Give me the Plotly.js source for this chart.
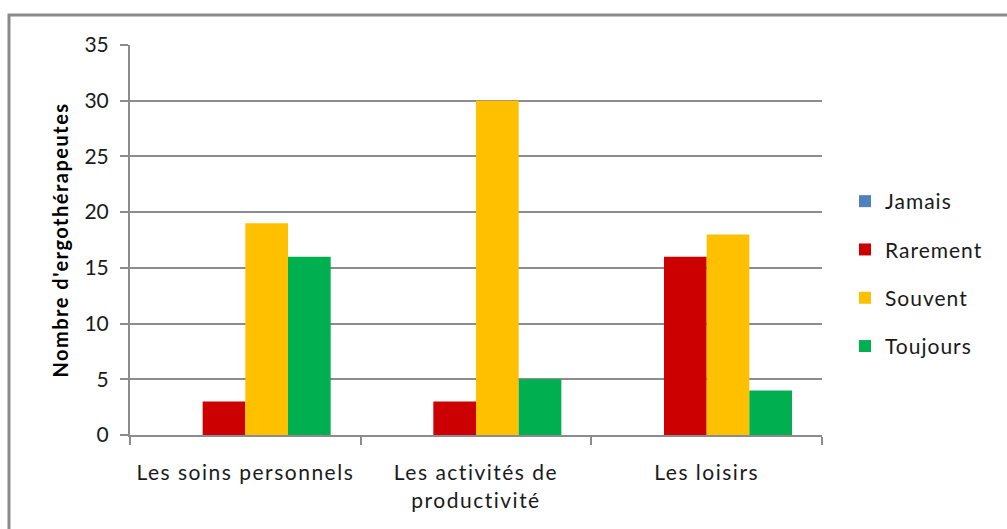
<!DOCTYPE html>
<html>
<head>
<meta charset="utf-8">
<script src="https://cdn.plot.ly/plotly-3.0.1.min.js"></script>
<style>
html,body{margin:0;padding:0;background:#fff;}
#chart{width:1007px;height:529px;}
.xtick text { letter-spacing: 1.5px; }
.legendtext { letter-spacing: 1px; }
.ytitle { letter-spacing: 1.5px; }
</style>
</head>
<body>
<div id="chart"></div>
<script>
const categories = ["Les soins personnels", "Les activités de<br>productivité", "Les loisirs"];
const seriesNames = ["Jamais", "Rarement", "Souvent", "Toujours"];
const jamais = [0, 0, 0];
const rarement = [3, 3, 16];
const souvent = [19, 30, 18];
const toujours = [16, 5, 4];
const colors = ["#4F81BD", "#CC0000", "#FFC000", "#00B050"];
const yTitle = "Nombre d'ergothérapeutes";

const values = [jamais, rarement, souvent, toujours];
const traces = values.map((v, i) => ({
  type: "bar",
  name: seriesNames[i],
  x: categories,
  y: v,
  marker: {color: colors[i]},
  legendgroup: "g" + i
}));

const W = 1007, H = 529, L = 130, R = 185, T = 45, B = 94;
const pw = W - L - R, ph = H - T - B;
const px = v => (v - L) / pw;
const py = v => (H - B - v) / ph;

const layout = {
  width: W, height: H,
  margin: {l: L, r: R, t: T, b: B},
  paper_bgcolor: "#fff",
  plot_bgcolor: "#fff",
  font: {family: "Lato, 'Open Sans', sans-serif", size: 20, color: "#1a1a1a"},
  barmode: "group",
  bargap: 0.26,
  bargroupgap: 0,
  xaxis: {
    type: "category",
    showline: true, linecolor: "#8c8c8c", linewidth: 2,
    ticks: "outside", tickson: "boundaries", ticklen: 8, tickcolor: "#8c8c8c", tickwidth: 2,
    showgrid: false,
    ticklabelstandoff: 18,
    tickfont: {size: 21, color: "#1a1a1a"}
  },
  yaxis: {
    range: [0, 35], dtick: 5,
    showline: true, linecolor: "#8c8c8c", linewidth: 2,
    ticks: "outside", ticklen: 8, tickcolor: "#8c8c8c", tickwidth: 2,
    showgrid: true, gridcolor: "#8c8c8c", gridwidth: 2,
    zeroline: false,
    ticklabelstandoff: 7,
    tickfont: {size: 21, color: "#1a1a1a"},
    title: {text: yTitle, font: {size: 20, color: "#000", weight: "bold"}, standoff: 10}
  },
  legend: {
    x: px(845), xanchor: "left",
    y: py(274), yanchor: "middle",
    traceorder: "grouped",
    tracegroupgap: 18,
    font: {size: 21, color: "#1a1a1a"},
    bgcolor: "rgba(0,0,0,0)"
  },
  shapes: [{
    type: "rect", xref: "paper", yref: "paper",
    x0: px(9), x1: px(1020), y0: py(540), y1: py(15),
    line: {color: "#8a8a8a", width: 3},
    fillcolor: "rgba(0,0,0,0)",
    layer: "below"
  }]
};

Plotly.newPlot("chart", traces, layout, {staticPlot: true});
</script>
</body>
</html>
